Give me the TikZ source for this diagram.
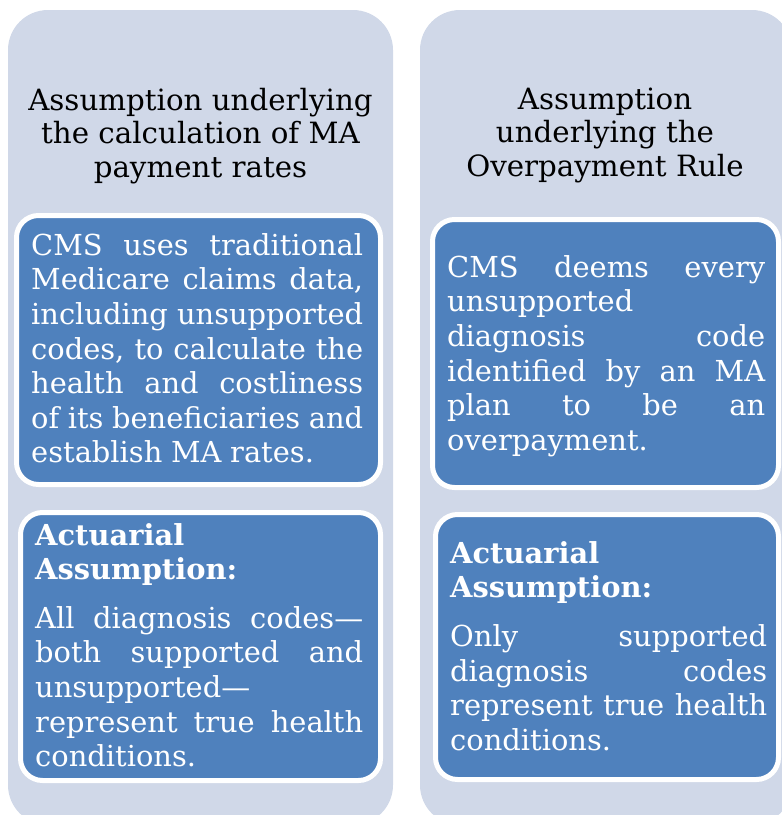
\documentclass[tikz,border=0pt]{standalone}
\usepackage{fontspec}
\setmainfont{DejaVu Serif}
\definecolor{panelgrey}{HTML}{D0D8E8}
\definecolor{cardblue}{HTML}{4F81BD}
\newcommand{\firstline}{\rule{0pt}{24pt}}
\newcommand{\tightspaces}{\spaceskip=0.3em plus 1em minus 0.12em\relax}
\hyphenpenalty=10000
\tikzset{
	panel/.style={fill=panelgrey, rounded corners=40},
	card/.style={fill=cardblue, draw=white, line width=5, rounded corners=22},
	headtext/.style={align=center, inner sep=0, anchor=north, font=\fontsize{29.3}{33.4}\selectfont},
	cardtext/.style={align=justify, inner sep=0, anchor=north west, text=white, font=\fontsize{28.9}{34.6}\selectfont\tightspaces},
}

\begin{document}
\begin{tikzpicture}[x=1pt, y=-1pt]
			%%%%% START %%%%%
			\useasboundingbox (0, 0) rectangle (782, 815);
			\clip (0, 0) rectangle (782, 815);
			
			% the two grey panels
			\fill[panel] (8, 10) rectangle (393, 825);
			\fill[panel] (420, 10) rectangle (792, 825);
			
			\node[headtext] (lefthead) at (200.5, 86) {\firstline Assumption underlying\\the calculation of MA\\payment rates};
			\node[headtext] (righthead) at (605, 85) {\firstline Assumption\\underlying the\\Overpayment Rule};
			
			% blue cards with white rims
			\draw[card] (16.5, 215.5) rectangle (380.5, 484.5);
			\draw[card] (20.5, 512.5) rectangle (380.5, 780.5);
			\draw[card] (432.5, 219.5) rectangle (778.5, 487.5);
			\draw[card] (435.5, 514.5) rectangle (778.5, 779.5);
			
			\node[cardtext, text width=332] (leftrates) at (31, 231) {\firstline CMS uses traditional\linebreak Medicare claims data,\linebreak including unsupported\linebreak codes, to calculate the\linebreak health and costliness\linebreak of its beneficiaries and\linebreak establish MA rates.};
			\node[cardtext, text width=328] (leftactuarial) at (35, 521) {\firstline\textbf{Actuarial\\Assumption:}\\[13.8pt]All diagnosis codes---\linebreak both supported and\linebreak unsupported---\\represent true health\linebreak conditions.};
			
			\node[cardtext, text width=318] (rightrule) at (447, 253) {\firstline CMS deems every\linebreak unsupported\\diagnosis code\linebreak identified by an MA\linebreak plan to be an\linebreak overpayment.};
			\node[cardtext, text width=317] (rightactuarial) at (450, 539) {\firstline\textbf{Actuarial\\Assumption:}\\[14pt]Only supported\linebreak diagnosis codes\linebreak represent true health\linebreak conditions.};
			%%%%% END %%%%%
\end{tikzpicture}
\end{document}
